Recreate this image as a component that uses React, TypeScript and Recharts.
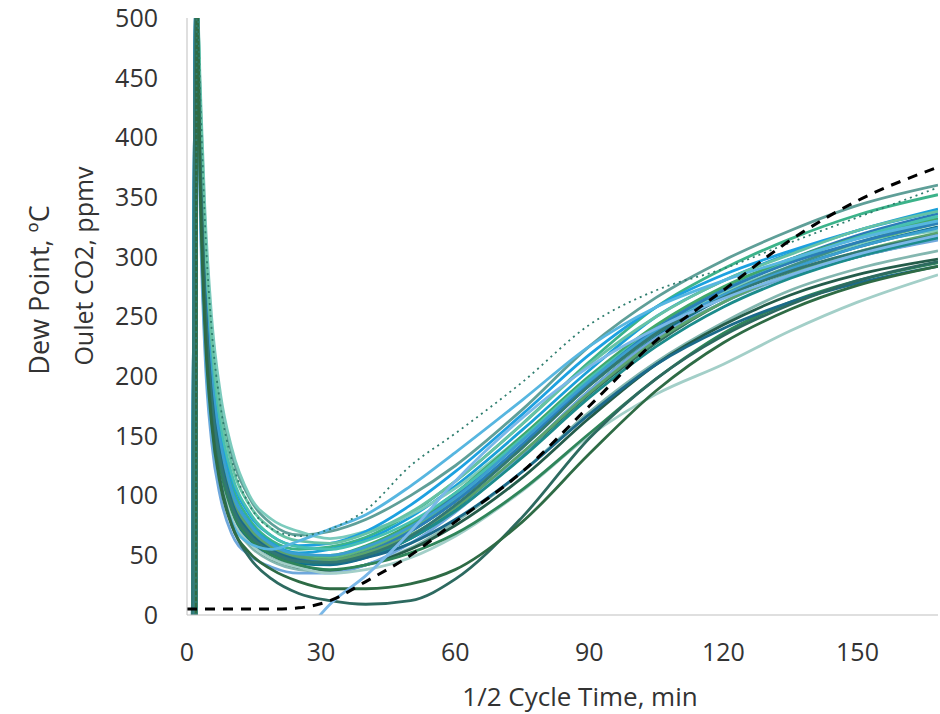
import { LineChart, Line, XAxis, YAxis } from 'recharts';

document.body.style.margin = '0';

// minutes into the half cycle
const times = [0, 1.2, 2, 2.2, 3, 4, 5.5, 7.5, 10, 14, 19, 25, 32, 40, 50, 60, 75, 90, 105, 120, 135, 150, 168];

const xTicks = [0, 30, 60, 90, 120, 150];
const yTicks = [0, 50, 100, 150, 200, 250, 300, 350, 400, 450, 500];

// outlet CO2 per run, ppmv
const run01 = [null, null, 0, 520, 430, 330, 240, 180, 135, 98, 76, 67, 70, 80, 100, 125, 172, 225, 266, 297, 322, 343, 360];
const run02 = [null, 0, 520, null, 410, 300, 210, 150, 110, 80, 62, 55, 57, 65, 85, 112, 160, 212, 258, 290, 315, 335, 352];
const run03 = [null, null, 0, 520, 400, 290, 200, 145, 105, 77, 60, 52, 55, 63, 82, 108, 155, 205, 250, 280, 303, 322, 340];
const run04 = [null, 0, 520, null, 380, 270, 185, 132, 95, 70, 55, 47, 48, 56, 75, 100, 148, 198, 242, 274, 298, 318, 336];
const run05 = [null, null, 0, 520, 390, 280, 192, 138, 100, 72, 56, 48, 48, 55, 72, 96, 142, 192, 235, 266, 290, 310, 328];
const run06 = [null, null, 0, 520, 370, 260, 178, 125, 90, 66, 52, 45, 44, 50, 66, 90, 135, 185, 228, 262, 285, 300, 315];
const run07 = [null, null, 0, 520, 440, 340, 250, 185, 140, 100, 80, 70, 64, 70, 84, 106, 150, 198, 240, 270, 292, 310, 322];
const run08 = [null, 0, 520, null, 360, 250, 170, 120, 86, 63, 50, 43, 42, 48, 64, 88, 135, 188, 233, 266, 290, 308, 325];
const run09 = [null, null, 0, 520, 395, 285, 195, 140, 102, 74, 58, 50, 50, 58, 76, 102, 150, 200, 243, 275, 298, 316, 332];
const run10 = [null, null, 0, 520, 350, 240, 160, 112, 80, 58, 45, 38, 36, 42, 56, 78, 120, 170, 212, 245, 272, 290, 305];
const run11 = [null, null, 0, 520, 360, 245, 165, 115, 82, 60, 47, 40, 37, 42, 55, 75, 115, 165, 210, 243, 268, 285, 298];
const run12 = [null, 0, 520, null, 410, 300, 212, 155, 115, 84, 66, 58, 60, 70, 92, 120, 168, 218, 258, 285, 305, 322, 338];
const run13 = [null, null, 0, 520, 330, 220, 145, 98, 68, 50, 40, 35, 35, 42, 60, 86, 135, 188, 232, 262, 284, 300, 314];
const run14 = [null, null, 0, 520, 385, 275, 190, 136, 98, 71, 56, 48, 46, 53, 70, 95, 142, 193, 236, 268, 292, 312, 330];
const run15 = [null, null, 0, 520, 420, 310, 220, 160, 118, 86, 66, 57, 55, 62, 78, 102, 148, 198, 240, 272, 296, 316, 334];
const run16 = [null, 0, 520, null, 375, 265, 182, 130, 93, 68, 54, 46, 45, 52, 70, 95, 143, 195, 240, 272, 295, 312, 328];
const run17 = [null, null, 0, 520, 390, 278, 192, 138, 100, 73, 57, 49, 46, 52, 67, 90, 136, 186, 230, 262, 286, 304, 320];
const run18 = [null, null, 0, 520, 370, 262, 180, 128, 92, 67, 53, 45, 43, 49, 64, 87, 132, 182, 225, 258, 282, 300, 316];
const run19 = [null, null, 0, 520, 355, 245, 165, 115, 82, 60, 47, 40, 35, 38, 48, 66, 104, 150, 185, 210, 238, 262, 285];
const run20 = [null, 0, 520, null, 400, 288, 200, 144, 104, 76, 59, 51, 50, 57, 74, 98, 146, 196, 238, 268, 290, 308, 324];
const run21 = [null, null, 0, 520, 365, 255, 172, 122, 88, 64, 50, 42, 38, 42, 52, 68, 105, 152, 198, 236, 262, 280, 295];
const run22 = [null, null, 0, 520, 380, 270, 185, 132, 95, 69, 54, 46, 43, 48, 60, 80, 120, 168, 210, 240, 262, 278, 292];
const run23 = [null, null, 0, 520, 425, 320, 232, 170, 126, 92, 72, 62, 60, 68, 86, 112, 160, 210, 250, 280, 302, 322, 338];
const run24 = [null, 0, 520, null, 375, 265, 180, 128, 92, 67, 53, 45, 44, 50, 66, 92, 140, 192, 236, 266, 288, 304, 318];
const run25 = [null, null, 0, 520, 340, 230, 155, 108, 78, 60, 55, 62, 72, 84, 108, 136, 180, 225, 258, 280, 298, 315, 330];
const run26 = [null, null, 0, 520, 360, 250, 165, 112, 76, 48, 30, 18, 12, 9, 12, 30, 82, 148, 198, 234, 260, 280, 296];
const run27 = [null, null, 0, 520, 350, 240, 160, 108, 75, 52, 38, 28, 22, 22, 26, 38, 78, 135, 188, 228, 256, 276, 292];
const run28 = [null, null, null, null, null, null, null, null, null, null, null, -22, 9, 33, 70, 112, 165, 208, 240, 265, 285, 302, 318];
const dotted = [null, null, 0, 520, 430, 330, 240, 175, 130, 92, 72, 66, 72, 88, 125, 152, 195, 243, 272, 290, 312, 333, 358];
const dashed = [5, 5, 5, 5, 5, 5, 5, 5, 5, 5, 5, 6, 12, 28, 50, 78, 120, 175, 230, 272, 314, 347, 375];

const runs = [
  run01, run02, run03, run04, run05, run06, run07, run08, run09, run10, run11, run12, run13, run14,
  run15, run16, run17, run18, run19, run20, run21, run22, run23, run24, run25, run26, run27, run28,
];

const COLORS = [
  '#5f9f98', '#3cb38a', '#1aa0d8', '#2b7bb9', '#5fb87c', '#2f6f5e', '#7ccbbd', '#0e6f8f', '#41a86b', '#84b7b0',
  '#245c4a', '#1da1e0', '#6fa8dc', '#3f8f86', '#48c0b0', '#2a7fb8', '#5aa36e', '#1c8c8c', '#a3cfc8', '#3c9fd0',
  '#2f855a', '#1b6a8a', '#66c2a5', '#317873', '#57b6e0', '#2d6a60', '#2e6b45', '#7ab8e8',
];

const rows = times.map((t, i) => {
  const row: Record<string, number | null> = { t, dotted: dotted[i], dashed: dashed[i] };
  runs.forEach((r, j) => {
    row['r' + j] = r[i];
  });
  return row;
});

const FONT = '"Open Sans", sans-serif';
const TEXT = '#333333';

export default function App() {
  return (
    <div style={{ width: 940, height: 714, fontFamily: FONT, position: 'relative' }}>
      <LineChart width={940} height={714} data={rows} margin={{ top: 18, right: 2, bottom: 0, left: 0 }}>
        <XAxis
          type="number"
          dataKey="t"
          domain={[0, 168]}
          ticks={xTicks}
          allowDataOverflow
          height={99}
          tickLine={false}
          tickSize={0}
          tickMargin={28}
          axisLine={{ stroke: '#bfbfbf', strokeWidth: 1 }}
          tick={{ fill: TEXT, fontSize: 25, fontFamily: FONT }}
          label={{
            content: () => (
              <text x={580} y={706} textAnchor="middle" fill={TEXT} fontSize={26} fontFamily={FONT}>
                1/2 Cycle Time, min
              </text>
            ),
          }}
        />
        <YAxis
          type="number"
          domain={[0, 500]}
          ticks={yTicks}
          allowDataOverflow
          width={187}
          tickLine={false}
          tickSize={0}
          tickMargin={29}
          axisLine={{ stroke: '#bfbfbf', strokeWidth: 1 }}
          tick={{ fill: TEXT, fontSize: 25, fontFamily: FONT }}
          label={{
            content: () => (
              <g>
                <text x={49} y={290} transform="rotate(-90 49 290)" textAnchor="middle" fill={TEXT} fontSize={27} fontFamily={FONT}>
                  Dew Point, ºC
                </text>
                <text x={93} y={266} transform="rotate(-90 93 266)" textAnchor="middle" fill={TEXT} fontSize={25} fontFamily={FONT}>
                  Oulet CO2, ppmv
                </text>
              </g>
            ),
          }}
        />
        {runs.map((_, j) => (
          <Line
            key={j}
            type="monotone"
            dataKey={'r' + j}
            stroke={COLORS[j % COLORS.length]}
            strokeWidth={2.8}
            dot={false}
            connectNulls
            isAnimationActive={false}
          />
        ))}
        <Line
          type="monotone"
          dataKey="dotted"
          stroke="#2e7d6e"
          strokeWidth={1.8}
          strokeDasharray="2 4"
          dot={false}
          connectNulls
          isAnimationActive={false}
        />
        <Line
          type="monotone"
          dataKey="dashed"
          stroke="#000000"
          strokeWidth={3}
          strokeDasharray="10 8"
          dot={false}
          isAnimationActive={false}
        />
      </LineChart>
    </div>
  );
}
